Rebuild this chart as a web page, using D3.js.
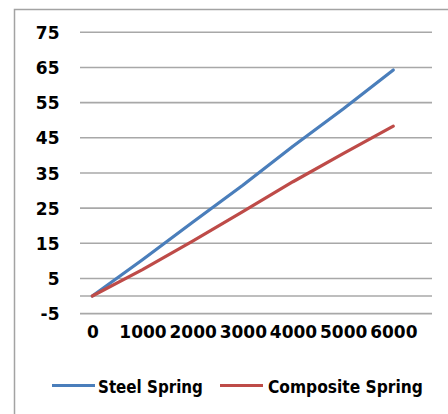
<!DOCTYPE html>
<html>
<head>
<meta charset="utf-8">
<script src="https://cdn.jsdelivr.net/npm/d3@7"></script>
<style>
  html, body { margin: 0; padding: 0; background: #ffffff; }
  svg { display: block; }
  text { font-family: "DejaVu Sans", sans-serif; font-weight: bold; fill: #000; }
</style>
</head>
<body>
<svg id="chart" width="448" height="414"></svg>
<script>
// Load (N) on the category axis
const loads = [0, 1000, 2000, 3000, 4000, 5000, 6000];
// Deflection for each spring type
const steelSpring = [0, 10.3, 21, 31.5, 42.6, 53.2, 64.3];
const compositeSpring = [0, 7.5, 15.6, 24, 32.5, 40.5, 48.3];
const seriesNames = ["Steel Spring", "Composite Spring"];
const seriesColors = ["#4a7ebb", "#be4b48"];
// Value axis tick labels
const yTicks = [-5, 5, 15, 25, 35, 45, 55, 65, 75];

const svg = d3.select("#chart");

const x = d3.scaleLinear().domain([0, 6000]).range([92.3, 393.3]);
const y = d3.scaleLinear().domain([-5, 75]).range([313.6, 32.3]);
const gridLeft = 80, gridRight = 432;

// Chart area border
svg.append("rect")
  .attr("x", 14.5).attr("y", 9.5)
  .attr("width", 470).attr("height", 430)
  .attr("fill", "none")
  .attr("stroke", "#a3a3a3")
  .attr("stroke-width", 1.5);

// Horizontal gridlines plus the zero line
svg.append("g")
  .selectAll("line")
  .data(yTicks.concat([0]))
  .join("line")
  .attr("x1", gridLeft).attr("x2", gridRight)
  .attr("y1", d => y(d)).attr("y2", d => y(d))
  .attr("stroke", "#a8a8a8")
  .attr("stroke-width", 1.6);

// Value axis labels (plain hyphen for negatives)
const yAxis = svg.append("g")
  .attr("transform", `translate(${gridLeft},0)`)
  .call(d3.axisLeft(y).tickValues(yTicks).tickFormat(d => String(d)).tickSize(0).tickPadding(20.5));
yAxis.select(".domain").remove();
yAxis.selectAll("text")
  .attr("font-size", 17)
  .attr("font-family", "DejaVu Sans")
  .attr("font-weight", "bold")
  .attr("dy", "0.36em");

// Category axis labels
const xAxis = svg.append("g")
  .attr("transform", `translate(0,${y(-5)})`)
  .call(d3.axisBottom(x).tickValues(loads).tickFormat(d => String(d)).tickSize(0).tickPadding(12.5));
xAxis.select(".domain").remove();
xAxis.selectAll("text")
  .attr("font-size", 17)
  .attr("font-family", "DejaVu Sans")
  .attr("font-weight", "bold");

// Series lines
const line = d3.line()
  .x((d, i) => x(loads[i]))
  .y(d => y(d));

[steelSpring, compositeSpring].forEach((vals, i) => {
  svg.append("path")
    .datum(vals)
    .attr("d", line)
    .attr("fill", "none")
    .attr("stroke", seriesColors[i])
    .attr("stroke-width", 3.2)
    .attr("stroke-linecap", "round")
    .attr("stroke-linejoin", "round");
});

// Legend: condensed bold labels, squeezed horizontally to their slot width
const legendItems = [
  { x: 52, textX: 98, width: 105 },
  { x: 220, textX: 268, width: 155 }
];
const legendY = 385.5;
legendItems.forEach((item, i) => {
  svg.append("line")
    .attr("x1", item.x).attr("x2", item.x + 43)
    .attr("y1", legendY).attr("y2", legendY)
    .attr("stroke", seriesColors[i])
    .attr("stroke-width", 3);
  const t = svg.append("text")
    .attr("x", 0).attr("y", 0)
    .attr("font-size", 18.5)
    .text(seriesNames[i]);
  const natural = t.node().getComputedTextLength();
  const sx = item.width / natural;
  t.attr("transform", `translate(${item.textX},${legendY + 7.5}) scale(${sx},1)`);
});
</script>
</body>
</html>
